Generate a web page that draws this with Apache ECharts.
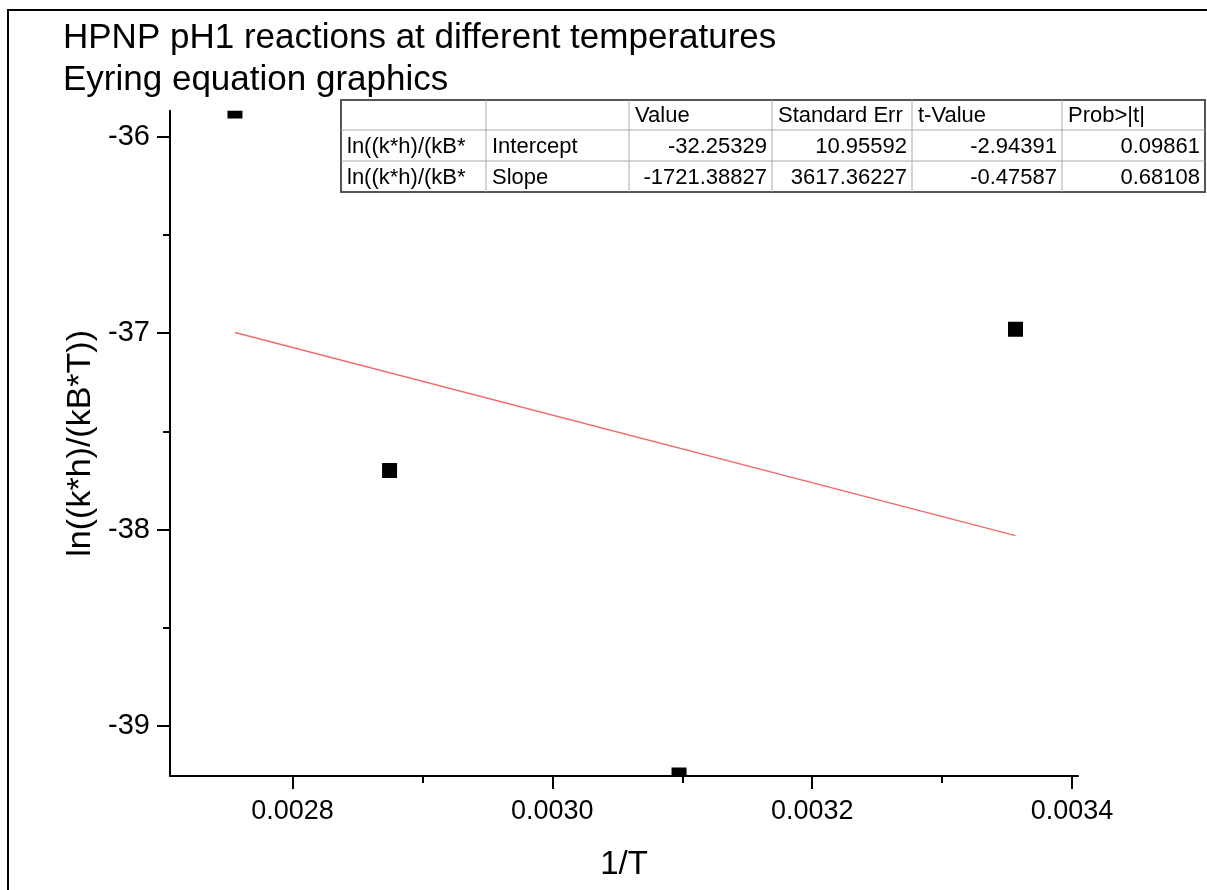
<!DOCTYPE html>
<html>
<head>
<meta charset="utf-8">
<script src="https://cdn.jsdelivr.net/npm/echarts@6/dist/echarts.min.js"></script>
<style>
html,body{margin:0;padding:0;background:#fff;}
#chart{width:1207px;height:890px;}
</style>
</head>
<body>
<div id="chart"></div>
<script>
// ---- data ----
const invT = [0.0027557, 0.0028747, 0.0030975, 0.0033565];
const lnK = [-35.869, -37.70, -39.249, -36.98];
const fitX = [0.0027557, 0.0033565];
const fitY = [-36.997, -38.031];
const xMajorTicks = [0.0028, 0.0030, 0.0032, 0.0034];
const xMinorTicks = [0.0029, 0.0031, 0.0033];
const yMajorTicks = [-39, -38, -37, -36];
const yMinorTicks = [-38.5, -37.5, -36.5];
const xRange = [0.0027057, 0.0034046];
const yRange = [-39.2545, -35.868];
const titleLines = ['HPNP pH1 reactions at different temperatures', 'Eyring equation graphics'];
const xName = '1/T';
const yName = 'ln((k*h)/(kB*T))';
const tableHeader = ['', '', 'Value', 'Standard Err', 't-Value', 'Prob>|t|'];
const tableRowLabels = ['ln((k*h)/(kB*', 'ln((k*h)/(kB*'];
const tableParams = ['Intercept', 'Slope'];
const tableValues = [
  ['-32.25329', '10.95592', '-2.94391', '0.09861'],
  ['-1721.38827', '3617.36227', '-0.47587', '0.68108']
];

const FONT = "'Liberation Sans', Arial, sans-serif";

// ---- table layout ----
const colEdges = [341, 486, 629, 772, 912, 1062, 1205];
const rowEdges = [100, 130, 161, 192];
const tableEls = [];
tableEls.push({type:'rect', shape:{x:colEdges[0], y:rowEdges[0], width:colEdges[6]-colEdges[0], height:rowEdges[3]-rowEdges[0]},
  style:{fill:'#fff', stroke:'#555', lineWidth:2}, z:10});
for (let i = 1; i < colEdges.length-1; i++) {
  tableEls.push({type:'line', shape:{x1:colEdges[i], y1:rowEdges[0], x2:colEdges[i], y2:rowEdges[3]}, style:{stroke:'#aaa', lineWidth:1}, z:11});
}
for (let j = 1; j < rowEdges.length-1; j++) {
  tableEls.push({type:'line', shape:{x1:colEdges[0], y1:rowEdges[j], x2:colEdges[6], y2:rowEdges[j]}, style:{stroke:'#aaa', lineWidth:1}, z:11});
}
function cellText(txt, col, row, align) {
  const x = align === 'right' ? colEdges[col+1]-5 : colEdges[col]+6;
  const y = (rowEdges[row] + rowEdges[row+1]) / 2 + 1;
  return {type:'text', x:x, y:y, z:12,
    style:{text:txt, fill:'#000', font:'22px ' + FONT, align:align, verticalAlign:'middle'}};
}
tableHeader.forEach((h, c) => { if (h) tableEls.push(cellText(h, c, 0, 'left')); });
tableRowLabels.forEach((t, r) => tableEls.push(cellText(t, 0, r+1, 'left')));
tableParams.forEach((t, r) => tableEls.push(cellText(t, 1, r+1, 'left')));
tableValues.forEach((row, r) => row.forEach((v, c) => tableEls.push(cellText(v, c+2, r+1, 'right'))));

const chart = echarts.init(document.getElementById('chart'));
const axisLabelStyle = {color:'#000', fontFamily: FONT};

chart.setOption({
  animation: false,
  backgroundColor: '#fff',
  title: {
    text: titleLines.join('\n'),
    left: 58, top: 12,
    textStyle: {fontSize: 35, lineHeight: 42, fontWeight: 'normal', color: '#000', fontFamily: FONT}
  },
  grid: {left: 170, top: 110.7, right: 129, bottom: 114, containLabel: false},
  xAxis: [{
    type: 'value', min: xRange[0], max: xRange[1], position: 'bottom',
    name: xName, nameLocation: 'middle', nameGap: 72,
    nameTextStyle: {fontSize: 33, color: '#000', fontFamily: FONT},
    axisLine: {show: true, onZero: false, lineStyle: {color: '#000', width: 2}},
    axisTick: {show: true, inside: false, length: 13, lineStyle: {color: '#000', width: 2}, customValues: xMajorTicks},
    axisLabel: {show: true, margin: 22, fontSize: 27, ...axisLabelStyle, customValues: xMajorTicks,
      formatter: v => Number(v).toFixed(4)},
    splitLine: {show: false}
  }, {
    type: 'value', min: xRange[0], max: xRange[1], position: 'bottom',
    axisLine: {show: false, onZero: false},
    axisTick: {show: true, inside: false, length: 7, lineStyle: {color: '#000', width: 2}, customValues: xMinorTicks},
    axisLabel: {show: false},
    splitLine: {show: false}
  }],
  yAxis: [{
    type: 'value', min: yRange[0], max: yRange[1], position: 'left',
    name: yName, nameLocation: 'middle', nameGap: 64, nameRotate: 90,
    nameTextStyle: {fontSize: 34, color: '#000', fontFamily: FONT},
    axisLine: {show: true, onZero: false, lineStyle: {color: '#000', width: 2}},
    axisTick: {show: true, inside: false, length: 13, lineStyle: {color: '#000', width: 2}, customValues: yMajorTicks},
    axisLabel: {show: true, margin: 20, fontSize: 29, ...axisLabelStyle, customValues: yMajorTicks,
      formatter: v => String(Math.round(v))},
    splitLine: {show: false}
  }, {
    type: 'value', min: yRange[0], max: yRange[1], position: 'left',
    axisLine: {show: false, onZero: false},
    axisTick: {show: true, inside: false, length: 7, lineStyle: {color: '#000', width: 2}, customValues: yMinorTicks},
    axisLabel: {show: false},
    splitLine: {show: false}
  }],
  series: [{
    type: 'line',
    data: fitX.map((x, i) => [x, fitY[i]]),
    showSymbol: false, symbol: 'none',
    lineStyle: {color: '#f26b6b', width: 1.5},
    xAxisIndex: 0, yAxisIndex: 0, z: 3
  }, {
    type: 'custom',
    clip: true,
    data: invT.map((x, i) => [x, lnK[i]]),
    encode: {x: 0, y: 1},
    xAxisIndex: 0, yAxisIndex: 0, z: 4,
    renderItem: function (params, api) {
      const p = api.coord([api.value(0), api.value(1)]);
      const s = 15;
      return {type: 'rect', shape: {x: p[0]-s/2, y: p[1]-s/2, width: s, height: s}, style: {fill: '#000'}};
    }
  }],
  graphic: [
    {type: 'polyline', shape: {points: [[8, 890], [8, 10], [1207, 10]]}, style: {stroke: '#000', lineWidth: 2, fill: null}, z: 20},
    {type: 'group', children: tableEls, z: 10}
  ]
});
</script>
</body>
</html>
